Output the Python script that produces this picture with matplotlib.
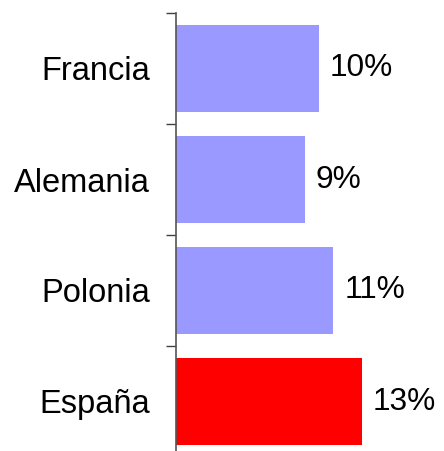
import matplotlib
matplotlib.use("Agg")
import matplotlib.pyplot as plt

categories = ["Francia", "Alemania", "Polonia", "España"]
values = [10, 9, 11, 13]
colors = ["#9999ff", "#9999ff", "#9999ff", "#ff0000"]
labels = ["10%", "9%", "11%", "13%"]

plt.rcParams['font.family'] = ['Liberation Sans', 'DejaVu Sans']

W, H = 444, 451
fig = plt.figure(figsize=(W/100, H/100), dpi=100)
top_px, bot_px, left_px, right_px = 13, 457, 176, 444
ax = fig.add_axes([left_px/W, (H-bot_px)/H, (right_px-left_px)/W, (bot_px-top_px)/H])

y = list(range(len(categories)))
ax.barh(y, values, height=0.78, color=colors, edgecolor='none')
ax.set_ylim(len(categories)-0.5, -0.5)
ax.set_xlim(0, (right_px-left_px)/14.3)

for yi, v, lab in zip(y, values, labels):
    ax.annotate(lab, (v, yi), xytext=(8.0, 0), textcoords='offset points',
                va='center', ha='left', fontsize=22.8)

ax.set_yticks([i - 0.5 for i in range(len(categories)+1)])
ax.set_yticklabels([])
ax.set_yticks(y, minor=True)
ax.set_yticklabels(categories, minor=True, fontsize=23.5)
ax.tick_params(axis='y', which='major', length=7.2, width=1.0, color='#404040', direction='out')
ax.tick_params(axis='y', which='minor', length=0, pad=18.5)
ax.set_xticks([])
for s in ['top', 'right', 'bottom']:
    ax.spines[s].set_visible(False)
ax.spines['left'].set_color('#555555')
ax.spines['left'].set_linewidth(1.2)

fig.savefig("out.png", dpi=100)
